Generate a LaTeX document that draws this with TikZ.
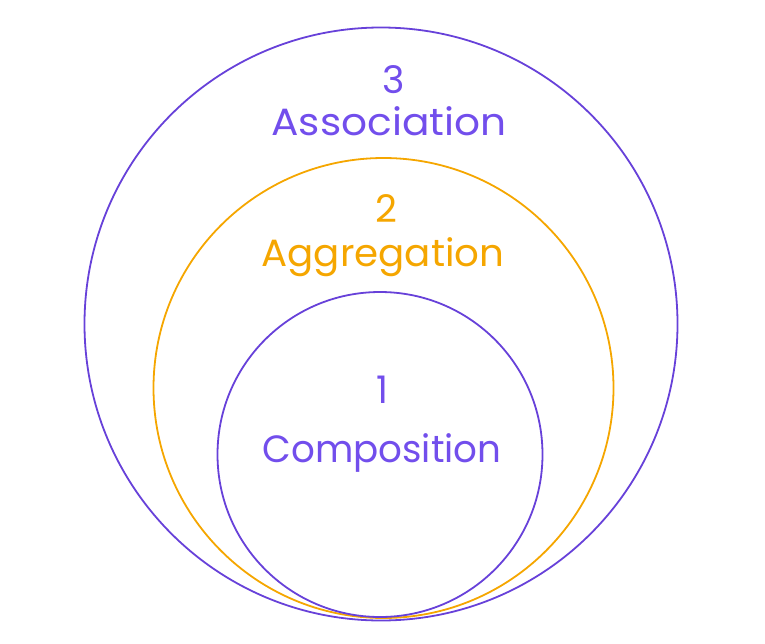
\documentclass[tikz,border=0pt]{standalone}
\usepackage{fontspec}
\setmainfont{Poppins}
\usepackage{tikz}
\definecolor{assocV}{RGB}{103,65,217}
\definecolor{assocT}{RGB}{114,78,236}
\definecolor{aggrY}{RGB}{245,166,0}

\begin{document}
\begin{tikzpicture}[
  x=1pt, y=-1pt,
  ring/.style={line width=1.8pt},
  lbl/.style={anchor=base, inner sep=0pt, font=\fontsize{38}{40}\selectfont}]

  \useasboundingbox (0,0) rectangle (765,643);

  % the three nested rings
  \draw[ring, assocV] (381,324) circle[radius=296.5];
  \draw[ring, aggrY] (383.5,388) circle[radius=230];
  \draw[ring, assocV] (380,454.5) circle[radius=162.5];

  % outer ring
  \node[lbl, text=assocT] (n3) at (394,93) {3};
  \node[lbl, xscale=1.07, text=assocT] (assoc) at (389,135) {Association};

  % middle ring
  \node[lbl, text=aggrY] (n2) at (386,222) {2};
  \node[lbl, xscale=1.02, text=aggrY] (aggr) at (383,266) {Aggregation};

  % inner ring
  \node[lbl, xscale=0.98, text=assocT] (n1) at (382,403) {1};
  \node[lbl, xscale=0.98, text=assocT] (comp) at (382,462) {Composition};
\end{tikzpicture}
\end{document}
